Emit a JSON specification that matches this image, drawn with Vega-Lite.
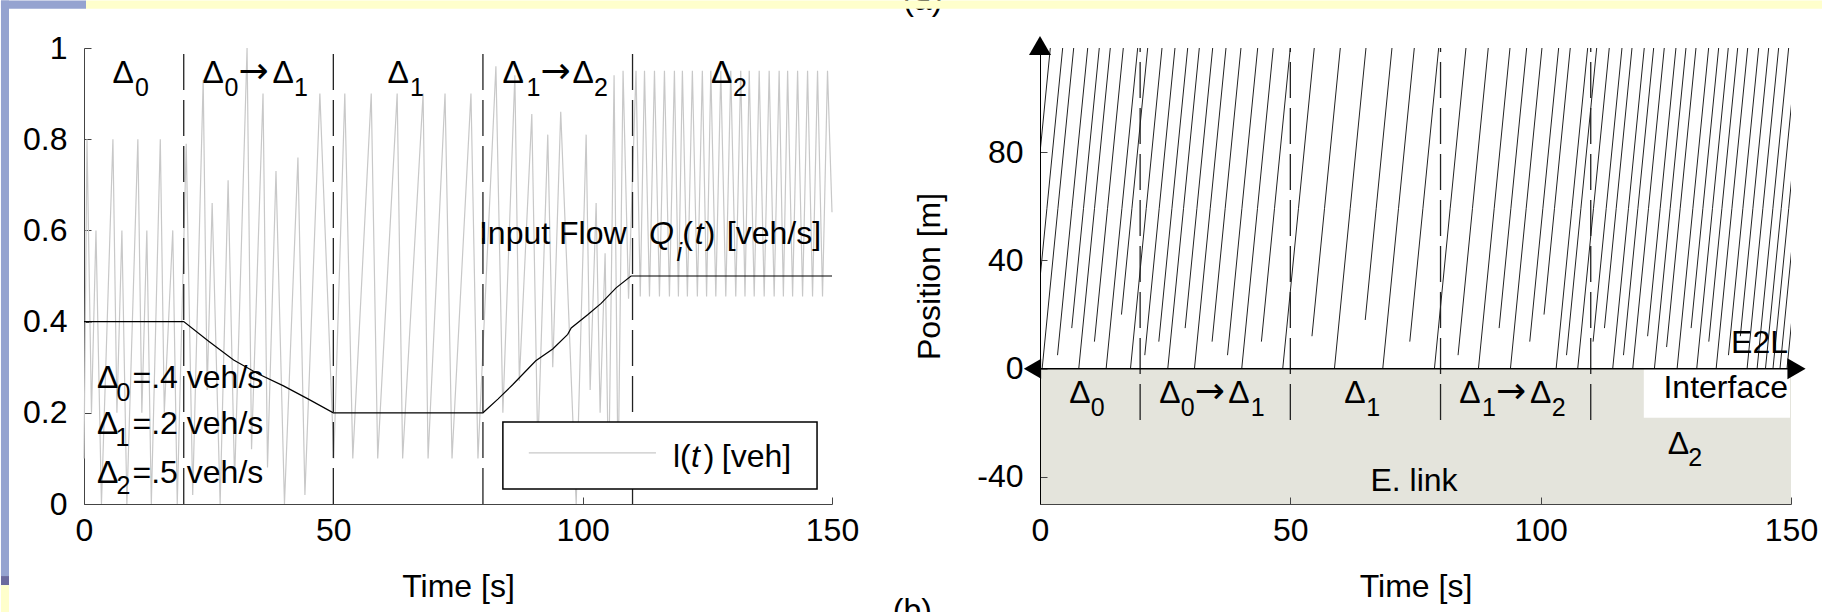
{
  "$schema": "https://vega.github.io/schema/vega-lite/v6.json",
  "background": "white",
  "padding": {"top": -16, "left": 0, "right": 0, "bottom": 0},
  "spacing": 208,
  "bounds": "flush",
  "config": {
    "font": "Liberation Sans, Arial, DejaVu Sans",
    "view": {"stroke": null},
    "axis": {
      "labelFont": "Liberation Sans, Arial, DejaVu Sans",
      "titleFont": "Liberation Sans, Arial, DejaVu Sans",
      "labelFontSize": 32,
      "titleFontSize": 32,
      "titleFontWeight": "normal",
      "labelColor": "#000",
      "titleColor": "#000",
      "domainColor": "#444",
      "tickColor": "#444",
      "grid": false,
      "labelFlush": false,
      "labelOverlap": false,
      "tickSize": -7
    },
    "text": {"font": "Liberation Sans, Arial, DejaVu Sans", "fontSize": 32, "color": "#000"}
  },
  "hconcat": [
    {
      "width": 748,
      "height": 456,
      "layer": [
        {
          "data": {"values": [{"t": 168.2, "v": 1.083, "label": "(a)"}, {"t": 166.1, "v": -0.257, "label": "(b)"}]},
          "mark": {"type": "text", "align": "center", "baseline": "alphabetic", "clip": false},
          "encoding": {
            "x": {"field": "t", "type": "quantitative", "scale": {"domain": [0, 150], "nice": false, "zero": false},
                  "axis": {"title": "Time [s]", "values": [0, 50, 100, 150], "labelPadding": 18, "titlePadding": 25}},
            "y": {"field": "v", "type": "quantitative", "scale": {"domain": [0, 1], "nice": false, "zero": false},
                  "axis": {"title": null, "values": [0, 0.2, 0.4, 0.6, 0.8, 1], "labelPadding": 24, "labelExpr": "'' + datum.value"}},
            "text": {"field": "label"}
          }
        },
        {
          "data": {"values": [{}]},
          "mark": {"type": "rect", "color": "#95A3D0", "clip": false},
          "encoding": {"x": {"datum": -16.65}, "x2": {"datum": -15.04}, "y": {"datum": 1.104}, "y2": {"datum": -0.158}}
        },
        {
          "data": {"values": [{}]},
          "mark": {"type": "rect", "color": "#95A3D0", "clip": false},
          "encoding": {"x": {"datum": -16.65}, "x2": {"datum": 0.4}, "y": {"datum": 1.104}, "y2": {"datum": 1.086}}
        },
        {
          "data": {"values": [{}]},
          "mark": {"type": "rect", "color": "#6B6A9E", "clip": false},
          "encoding": {"x": {"datum": -16.65}, "x2": {"datum": -15.04}, "y": {"datum": -0.158}, "y2": {"datum": -0.178}}
        },
        {
          "data": {"values": [{}]},
          "mark": {"type": "rect", "color": "#FFFFCC", "clip": false},
          "encoding": {"x": {"datum": -16.65}, "x2": {"datum": -15.04}, "y": {"datum": -0.178}, "y2": {"datum": -0.24}}
        },
        {
          "data": {"values": [{}]},
          "mark": {"type": "rect", "color": "#FFFFCC", "clip": false},
          "encoding": {"x": {"datum": 0.4}, "x2": {"datum": 348.8}, "y": {"datum": 1.104}, "y2": {"datum": 1.086}}
        },
        {
          "data": {"values": [
            {"t": 0, "v": 0.1}, {"t": 0.6, "v": 0.8}, {"t": 1.5, "v": 0.2}, {"t": 2.4, "v": 0.6}, {"t": 3.5, "v": 0.0},
            {"t": 5.8, "v": 0.8}, {"t": 6.6, "v": 0.2}, {"t": 7.6, "v": 0.6}, {"t": 8.6, "v": 0.0},
            {"t": 10.8, "v": 0.8}, {"t": 11.6, "v": 0.2}, {"t": 12.6, "v": 0.6}, {"t": 13.5, "v": 0.0},
            {"t": 15.3, "v": 0.8}, {"t": 16.1, "v": 0.2}, {"t": 17.8, "v": 0.6}, {"t": 18.7, "v": 0.0},
            {"t": 20.5, "v": 0.79}, {"t": 21.8, "v": 0.02}, {"t": 23.9, "v": 0.93}, {"t": 24.7, "v": 0.25},
            {"t": 25.7, "v": 0.66}, {"t": 27.3, "v": 0.0}, {"t": 28.9, "v": 0.71}, {"t": 30.2, "v": 0.05},
            {"t": 32.7, "v": 1.0}, {"t": 33.6, "v": 0.12}, {"t": 35.9, "v": 0.9}, {"t": 36.8, "v": 0.08},
            {"t": 38.5, "v": 0.73}, {"t": 40.2, "v": 0.0}, {"t": 42.9, "v": 0.76}, {"t": 44.3, "v": 0.02},
            {"t": 47.3, "v": 0.9}, {"t": 50.1, "v": 0.1}, {"t": 52.3, "v": 0.9}, {"t": 53.9, "v": 0.1},
            {"t": 57.6, "v": 0.9}, {"t": 58.9, "v": 0.1}, {"t": 62.8, "v": 0.9}, {"t": 63.9, "v": 0.1},
            {"t": 68.0, "v": 0.9}, {"t": 69.0, "v": 0.1}, {"t": 72.4, "v": 0.9}, {"t": 73.8, "v": 0.1},
            {"t": 77.6, "v": 0.9}, {"t": 79.0, "v": 0.1}, {"t": 82.6, "v": 0.96}, {"t": 84.0, "v": 0.2},
            {"t": 86.4, "v": 0.94}, {"t": 87.3, "v": 0.27}, {"t": 89.8, "v": 0.855}, {"t": 91.0, "v": 0.12},
            {"t": 93.0, "v": 0.81}, {"t": 94.0, "v": 0.3}, {"t": 95.6, "v": 0.86}, {"t": 98.7, "v": 0.0},
            {"t": 100.7, "v": 0.81}, {"t": 101.5, "v": 0.25}, {"t": 102.7, "v": 0.66}, {"t": 103.5, "v": 0.2},
            {"t": 104.5, "v": 0.55}, {"t": 105.2, "v": 0.04}, {"t": 106.3, "v": 0.94}, {"t": 107.1, "v": 0.05},
            {"t": 108.1, "v": 0.95}, {"t": 109.2, "v": 0.45},
            {"t": 110.7, "v": 0.95}, {"t": 111.55, "v": 0.455}, {"t": 112.4, "v": 0.95}, {"t": 113.4, "v": 0.455},
            {"t": 114.4, "v": 0.95}, {"t": 115.4, "v": 0.455}, {"t": 116.4, "v": 0.95}, {"t": 117.4, "v": 0.455},
            {"t": 118.4, "v": 0.95}, {"t": 119.2, "v": 0.455}, {"t": 120.0, "v": 0.95}, {"t": 121.0, "v": 0.455},
            {"t": 122.0, "v": 0.95}, {"t": 123.0, "v": 0.455}, {"t": 124.0, "v": 0.95}, {"t": 124.85, "v": 0.455},
            {"t": 125.7, "v": 0.95}, {"t": 126.7, "v": 0.455}, {"t": 127.7, "v": 0.95}, {"t": 128.7, "v": 0.455},
            {"t": 129.7, "v": 0.95}, {"t": 130.7, "v": 0.455}, {"t": 131.7, "v": 0.95}, {"t": 132.55, "v": 0.455},
            {"t": 133.4, "v": 0.95}, {"t": 134.4, "v": 0.455}, {"t": 135.4, "v": 0.95}, {"t": 136.4, "v": 0.455},
            {"t": 137.4, "v": 0.95}, {"t": 138.4, "v": 0.455}, {"t": 139.4, "v": 0.95}, {"t": 140.25, "v": 0.455},
            {"t": 141.1, "v": 0.95}, {"t": 142.1, "v": 0.455}, {"t": 143.1, "v": 0.95}, {"t": 144.1, "v": 0.455},
            {"t": 145.1, "v": 0.95}, {"t": 146.1, "v": 0.455}, {"t": 147.1, "v": 0.95}, {"t": 148.1, "v": 0.455},
            {"t": 149.1, "v": 0.95}, {"t": 150, "v": 0.64}
          ]},
          "mark": {"type": "line", "color": "#c8c8c8", "strokeWidth": 1.2},
          "encoding": {"x": {"field": "t", "type": "quantitative"}, "y": {"field": "v", "type": "quantitative"}}
        },
        {
          "data": {"values": [
            {"t": 0, "v": 0.4}, {"t": 20, "v": 0.4}, {"t": 25, "v": 0.357}, {"t": 30, "v": 0.316}, {"t": 35, "v": 0.285},
            {"t": 40, "v": 0.259}, {"t": 45, "v": 0.23}, {"t": 50, "v": 0.2}, {"t": 80, "v": 0.2}, {"t": 83, "v": 0.23},
            {"t": 86, "v": 0.262}, {"t": 89, "v": 0.296}, {"t": 90.6, "v": 0.314}, {"t": 94, "v": 0.34}, {"t": 97, "v": 0.372},
            {"t": 97.7, "v": 0.386}, {"t": 101, "v": 0.415}, {"t": 103.7, "v": 0.44}, {"t": 106.7, "v": 0.474},
            {"t": 109.7, "v": 0.5}, {"t": 150, "v": 0.5}
          ]},
          "mark": {"type": "line", "color": "#000", "strokeWidth": 1.2},
          "encoding": {"x": {"field": "t", "type": "quantitative"}, "y": {"field": "v", "type": "quantitative"}}
        },
        {
          "data": {"values": [{"t": 20}, {"t": 50}, {"t": 80}, {"t": 110}]},
          "mark": {"type": "rule", "color": "#222", "strokeWidth": 1.3, "strokeDash": [36, 10]},
          "encoding": {"x": {"field": "t", "type": "quantitative"}, "y": {"datum": 0}, "y2": {"datum": 1}}
        },
        {
          "data": {"values": [{}]},
          "mark": {"type": "rect", "fill": "white", "stroke": "#000", "strokeWidth": 1.5},
          "encoding": {"x": {"datum": 84.0}, "x2": {"datum": 147.0}, "y": {"datum": 0.18}, "y2": {"datum": 0.033}}
        },
        {
          "data": {"values": [{}]},
          "mark": {"type": "rule", "color": "#c8c8c8", "strokeWidth": 1.2},
          "encoding": {"x": {"datum": 89.2}, "x2": {"datum": 114.7}, "y": {"datum": 0.112}}
        },
        {
          "data": {"values": [
            {"t": 5.71, "v": 0.924, "label": "Δ"}, {"t": 23.76, "v": 0.924, "label": "Δ"},
            {"t": 37.8, "v": 0.924, "label": "Δ"}, {"t": 60.86, "v": 0.924, "label": "Δ"}, {"t": 83.92, "v": 0.924, "label": "Δ"},
            {"t": 97.96, "v": 0.924, "label": "Δ"}, {"t": 125.73, "v": 0.924, "label": "Δ"},
            {"t": 2.61, "v": 0.255, "label": "Δ"}, {"t": 9.73, "v": 0.255, "label": "=.4 veh/s"},
            {"t": 2.61, "v": 0.153, "label": "Δ"}, {"t": 9.73, "v": 0.153, "label": "=.2 veh/s"},
            {"t": 2.61, "v": 0.047, "label": "Δ"}, {"t": 9.73, "v": 0.047, "label": "=.5 veh/s"},
            {"t": 79.2, "v": 0.57, "label": "Input Flow"}, {"t": 119.95, "v": 0.57, "label": "("},
            {"t": 124.5, "v": 0.57, "label": ")"}, {"t": 128.9, "v": 0.57, "label": "[veh/s]"},
            {"t": 118.1, "v": 0.082, "label": "l("}, {"t": 124.3, "v": 0.082, "label": ")"}, {"t": 127.9, "v": 0.082, "label": "[veh]"}
          ]},
          "mark": {"type": "text", "align": "left", "baseline": "alphabetic"},
          "encoding": {"x": {"field": "t", "type": "quantitative"}, "y": {"field": "v", "type": "quantitative"}, "text": {"field": "label"}}
        },
        {
          "data": {"values": [{"t": 30.98, "v": 0.924, "label": "→"}, {"t": 91.54, "v": 0.924, "label": "→"}]},
          "mark": {"type": "text", "align": "left", "baseline": "alphabetic", "font": "DejaVu Sans", "fontSize": 36},
          "encoding": {"x": {"field": "t", "type": "quantitative"}, "y": {"field": "v", "type": "quantitative"}, "text": {"field": "label"}}
        },
        {
          "data": {"values": [
            {"t": 113.3, "v": 0.57, "label": "Q"}, {"t": 122.5, "v": 0.57, "label": "t"}, {"t": 121.7, "v": 0.082, "label": "t"}
          ]},
          "mark": {"type": "text", "align": "left", "baseline": "alphabetic", "fontStyle": "italic"},
          "encoding": {"x": {"field": "t", "type": "quantitative"}, "y": {"field": "v", "type": "quantitative"}, "text": {"field": "label"}}
        },
        {
          "data": {"values": [
            {"t": 10.23, "v": 0.895, "label": "0"}, {"t": 28.17, "v": 0.895, "label": "0"}, {"t": 42.11, "v": 0.895, "label": "1"},
            {"t": 65.37, "v": 0.895, "label": "1"}, {"t": 88.73, "v": 0.895, "label": "1"}, {"t": 102.27, "v": 0.895, "label": "2"},
            {"t": 130.14, "v": 0.895, "label": "2"},
            {"t": 6.5, "v": 0.226, "label": "0"}, {"t": 6.3, "v": 0.127, "label": "1"}, {"t": 6.5, "v": 0.021, "label": "2"}
          ]},
          "mark": {"type": "text", "align": "left", "baseline": "alphabetic", "fontSize": 25},
          "encoding": {"x": {"field": "t", "type": "quantitative"}, "y": {"field": "v", "type": "quantitative"}, "text": {"field": "label"}}
        },
        {
          "data": {"values": [{"t": 118.8, "v": 0.533, "label": "i"}]},
          "mark": {"type": "text", "align": "left", "baseline": "alphabetic", "fontSize": 25, "fontStyle": "italic"},
          "encoding": {"x": {"field": "t", "type": "quantitative"}, "y": {"field": "v", "type": "quantitative"}, "text": {"field": "label"}}
        }
      ]
    },
    {
      "width": 751,
      "height": 456,
      "layer": [
        {
          "data": {"values": [{}]},
          "mark": {"type": "rect", "color": "#e4e4dc"},
          "encoding": {
            "x": {"datum": 0, "type": "quantitative", "scale": {"domain": [0, 150], "nice": false, "zero": false},
                  "axis": {"title": "Time [s]", "values": [0, 50, 100, 150], "labelPadding": 18, "titlePadding": 25, "zindex": 1}},
            "x2": {"datum": 150},
            "y": {"datum": -50, "type": "quantitative", "scale": {"domain": [-50, 118.5], "nice": false, "zero": false},
                  "axis": {"title": "Position [m]", "values": [-40, 0, 40, 80], "labelPadding": 24, "titlePadding": 30, "domainColor": "#000", "zindex": 1,
                           "labelExpr": "datum.value < 0 ? '-' + abs(datum.value) : '' + datum.value"}},
            "y2": {"datum": 0}
          }
        },
        {
          "data": {"values": [{}]},
          "mark": {"type": "rect", "color": "white"},
          "encoding": {"x": {"datum": 120.6}, "x2": {"datum": 149.8}, "y": {"datum": -18.1}, "y2": {"datum": 0}}
        },
        {
          "data": {"values": [
            {"id": 1, "t": -4.24, "p": 0}, {"id": 1, "t": -1.09, "p": 59.25}, {"id": 1, "t": 2.06, "p": 118.5},
            {"id": 2, "t": -1.24, "p": 10}, {"id": 2, "t": 1.38, "p": 59.25}, {"id": 2, "t": 4.53, "p": 118.5},
            {"id": 3, "t": 0.43, "p": 0}, {"id": 3, "t": 3.58, "p": 59.25}, {"id": 3, "t": 6.73, "p": 118.5},
            {"id": 4, "t": 3.5, "p": 5}, {"id": 4, "t": 6.38, "p": 59.25}, {"id": 4, "t": 9.53, "p": 118.5},
            {"id": 5, "t": 6.34, "p": 15}, {"id": 5, "t": 8.69, "p": 59.25}, {"id": 5, "t": 11.84, "p": 118.5},
            {"id": 6, "t": 7.74, "p": 0}, {"id": 6, "t": 10.89, "p": 59.25}, {"id": 6, "t": 14.04, "p": 118.5},
            {"id": 7, "t": 10.87, "p": 10}, {"id": 7, "t": 13.49, "p": 59.25}, {"id": 7, "t": 16.64, "p": 118.5},
            {"id": 8, "t": 13.21, "p": 0}, {"id": 8, "t": 16.36, "p": 59.25}, {"id": 8, "t": 19.51, "p": 118.5},
            {"id": 9, "t": 16.27, "p": 20}, {"id": 9, "t": 18.36, "p": 59.25}, {"id": 9, "t": 21.51, "p": 118.5},
            {"id": 10, "t": 18.07, "p": 0}, {"id": 10, "t": 21.22, "p": 59.25}, {"id": 10, "t": 24.37, "p": 118.5},
            {"id": 11, "t": 20.93, "p": 5}, {"id": 11, "t": 23.81, "p": 59.25}, {"id": 11, "t": 26.96, "p": 118.5},
            {"id": 12, "t": 23.73, "p": 10}, {"id": 12, "t": 26.35, "p": 59.25}, {"id": 12, "t": 29.5, "p": 118.5},
            {"id": 13, "t": 25.52, "p": 0}, {"id": 13, "t": 28.67, "p": 59.25}, {"id": 13, "t": 31.82, "p": 118.5},
            {"id": 14, "t": 28.99, "p": 15}, {"id": 14, "t": 31.34, "p": 59.25}, {"id": 14, "t": 34.49, "p": 118.5},
            {"id": 15, "t": 30.85, "p": 0}, {"id": 15, "t": 34.0, "p": 59.25}, {"id": 15, "t": 37.15, "p": 118.5},
            {"id": 16, "t": 34.37, "p": 10}, {"id": 16, "t": 36.99, "p": 59.25}, {"id": 16, "t": 40.14, "p": 118.5},
            {"id": 17, "t": 37.45, "p": 5}, {"id": 17, "t": 40.33, "p": 59.25}, {"id": 17, "t": 43.48, "p": 118.5},
            {"id": 18, "t": 40.29, "p": 0}, {"id": 18, "t": 43.44, "p": 59.25}, {"id": 18, "t": 46.59, "p": 118.5},
            {"id": 19, "t": 44.22, "p": 10}, {"id": 19, "t": 46.84, "p": 59.25}, {"id": 19, "t": 49.99, "p": 118.5},
            {"id": 20, "t": 48.48, "p": 0}, {"id": 20, "t": 51.63, "p": 59.25}, {"id": 20, "t": 54.78, "p": 118.5},
            {"id": 21, "t": 54.32, "p": 12}, {"id": 21, "t": 56.83, "p": 59.25}, {"id": 21, "t": 59.98, "p": 118.5},
            {"id": 22, "t": 58.81, "p": 0}, {"id": 22, "t": 61.96, "p": 59.25}, {"id": 22, "t": 65.11, "p": 118.5},
            {"id": 23, "t": 64.96, "p": 18}, {"id": 23, "t": 67.15, "p": 59.25}, {"id": 23, "t": 70.3, "p": 118.5},
            {"id": 24, "t": 68.46, "p": 0}, {"id": 24, "t": 71.61, "p": 59.25}, {"id": 24, "t": 74.76, "p": 118.5},
            {"id": 25, "t": 73.86, "p": 10}, {"id": 25, "t": 76.48, "p": 59.25}, {"id": 25, "t": 79.63, "p": 118.5},
            {"id": 26, "t": 78.78, "p": 0}, {"id": 26, "t": 81.93, "p": 59.25}, {"id": 26, "t": 85.08, "p": 118.5},
            {"id": 27, "t": 83.5, "p": 5}, {"id": 27, "t": 86.38, "p": 59.25}, {"id": 27, "t": 89.53, "p": 118.5},
            {"id": 28, "t": 87.57, "p": 0}, {"id": 28, "t": 90.72, "p": 59.25}, {"id": 28, "t": 93.87, "p": 118.5},
            {"id": 29, "t": 91.7, "p": 15}, {"id": 29, "t": 94.05, "p": 59.25}, {"id": 29, "t": 97.2, "p": 118.5},
            {"id": 30, "t": 93.96, "p": 0}, {"id": 30, "t": 97.11, "p": 59.25}, {"id": 30, "t": 100.26, "p": 118.5},
            {"id": 31, "t": 97.82, "p": 10}, {"id": 31, "t": 100.44, "p": 59.25}, {"id": 31, "t": 103.59, "p": 118.5},
            {"id": 32, "t": 100.67, "p": 20}, {"id": 32, "t": 102.76, "p": 59.25}, {"id": 32, "t": 105.91, "p": 118.5},
            {"id": 33, "t": 103.09, "p": 0}, {"id": 33, "t": 106.24, "p": 59.25}, {"id": 33, "t": 109.39, "p": 118.5},
            {"id": 34, "t": 105.16, "p": 5}, {"id": 34, "t": 108.04, "p": 59.25}, {"id": 34, "t": 111.19, "p": 118.5},
            {"id": 35, "t": 107.4, "p": 0}, {"id": 35, "t": 110.55, "p": 59.25}, {"id": 35, "t": 113.7, "p": 118.5},
            {"id": 36, "t": 110.47, "p": 10}, {"id": 36, "t": 113.09, "p": 59.25}, {"id": 36, "t": 116.24, "p": 118.5},
            {"id": 37, "t": 112.74, "p": 15}, {"id": 37, "t": 115.09, "p": 59.25}, {"id": 37, "t": 118.24, "p": 118.5},
            {"id": 38, "t": 114.39, "p": 0}, {"id": 38, "t": 117.54, "p": 59.25}, {"id": 38, "t": 120.69, "p": 118.5},
            {"id": 39, "t": 116.54, "p": 5}, {"id": 39, "t": 119.42, "p": 59.25}, {"id": 39, "t": 122.57, "p": 118.5},
            {"id": 40, "t": 118.39, "p": 0}, {"id": 40, "t": 121.54, "p": 59.25}, {"id": 40, "t": 124.69, "p": 118.5},
            {"id": 41, "t": 121.36, "p": 12}, {"id": 41, "t": 123.87, "p": 59.25}, {"id": 41, "t": 127.02, "p": 118.5},
            {"id": 42, "t": 122.72, "p": 0}, {"id": 42, "t": 125.87, "p": 59.25}, {"id": 42, "t": 129.02, "p": 118.5},
            {"id": 43, "t": 125.15, "p": 8}, {"id": 43, "t": 127.87, "p": 59.25}, {"id": 43, "t": 131.02, "p": 118.5},
            {"id": 44, "t": 127.25, "p": 0}, {"id": 44, "t": 130.4, "p": 59.25}, {"id": 44, "t": 133.55, "p": 118.5},
            {"id": 45, "t": 130.05, "p": 15}, {"id": 45, "t": 132.4, "p": 59.25}, {"id": 45, "t": 135.55, "p": 118.5},
            {"id": 46, "t": 131.17, "p": 0}, {"id": 46, "t": 134.32, "p": 59.25}, {"id": 46, "t": 137.47, "p": 118.5},
            {"id": 47, "t": 133.58, "p": 10}, {"id": 47, "t": 136.2, "p": 59.25}, {"id": 47, "t": 139.35, "p": 118.5},
            {"id": 48, "t": 135.05, "p": 0}, {"id": 48, "t": 138.2, "p": 59.25}, {"id": 48, "t": 141.35, "p": 118.5},
            {"id": 49, "t": 137.51, "p": 5}, {"id": 49, "t": 140.39, "p": 59.25}, {"id": 49, "t": 143.54, "p": 118.5},
            {"id": 50, "t": 139.88, "p": 12}, {"id": 50, "t": 142.39, "p": 59.25}, {"id": 50, "t": 145.54, "p": 118.5},
            {"id": 51, "t": 141.23, "p": 0}, {"id": 51, "t": 144.38, "p": 59.25}, {"id": 51, "t": 147.53, "p": 118.5},
            {"id": 52, "t": 143.23, "p": 0}, {"id": 52, "t": 146.38, "p": 59.25}, {"id": 52, "t": 149.53, "p": 118.5},
            {"id": 53, "t": 144.9, "p": 0}, {"id": 53, "t": 148.05, "p": 59.25}, {"id": 53, "t": 151.2, "p": 118.5},
            {"id": 54, "t": 146.4, "p": 0}, {"id": 54, "t": 149.55, "p": 59.25}, {"id": 54, "t": 152.7, "p": 118.5},
            {"id": 55, "t": 147.8, "p": 0}, {"id": 55, "t": 150.95, "p": 59.25}, {"id": 55, "t": 154.1, "p": 118.5},
            {"id": 56, "t": 149.2, "p": 0}, {"id": 56, "t": 152.35, "p": 59.25}, {"id": 56, "t": 155.5, "p": 118.5}
          ]},
          "mark": {"type": "line", "color": "#222", "strokeWidth": 1, "clip": true},
          "encoding": {"x": {"field": "t", "type": "quantitative"}, "y": {"field": "p", "type": "quantitative"}, "detail": {"field": "id"}}
        },
        {
          "data": {"values": [{"t": 20}, {"t": 50}, {"t": 80}, {"t": 110}]},
          "mark": {"type": "rule", "color": "#222", "strokeWidth": 1.3, "strokeDash": [36, 10]},
          "encoding": {"x": {"field": "t", "type": "quantitative"}, "y": {"datum": -19}, "y2": {"datum": 118.5}}
        },
        {
          "data": {"values": [{}]},
          "mark": {"type": "rule", "color": "#000", "strokeWidth": 1.4, "clip": false},
          "encoding": {"x": {"datum": -1.5}, "x2": {"datum": 151.1}, "y": {"datum": 0}}
        },
        {
          "data": {"values": [{}]},
          "mark": {"type": "point", "shape": "triangle-up", "filled": true, "color": "#000", "opacity": 1, "size": 484, "clip": false},
          "encoding": {"x": {"datum": 0}, "y": {"datum": 119.4}}
        },
        {
          "data": {"values": [{}]},
          "mark": {"type": "point", "shape": "triangle-left", "filled": true, "color": "#000", "opacity": 1, "size": 400, "clip": false},
          "encoding": {"x": {"datum": -1.5}, "y": {"datum": 0}}
        },
        {
          "data": {"values": [{}]},
          "mark": {"type": "point", "shape": "triangle-right", "filled": true, "color": "#000", "opacity": 1, "size": 441, "clip": false},
          "encoding": {"x": {"datum": 151.1}, "y": {"datum": 0}}
        },
        {
          "data": {"values": [
            {"t": 5.85, "p": -12.57, "label": "Δ"}, {"t": 23.83, "p": -12.57, "label": "Δ"},
            {"t": 37.61, "p": -12.57, "label": "Δ"}, {"t": 60.78, "p": -12.57, "label": "Δ"}, {"t": 83.74, "p": -12.57, "label": "Δ"},
            {"t": 97.86, "p": -12.57, "label": "Δ"}, {"t": 125.36, "p": -31.63, "label": "Δ"}
          ]},
          "mark": {"type": "text", "align": "left", "baseline": "alphabetic"},
          "encoding": {"x": {"field": "t", "type": "quantitative"}, "y": {"field": "p", "type": "quantitative"}, "text": {"field": "label"}}
        },
        {
          "data": {"values": [{"t": 30.9, "p": -12.57, "label": "→"}, {"t": 91.1, "p": -12.57, "label": "→"}]},
          "mark": {"type": "text", "align": "left", "baseline": "alphabetic", "font": "DejaVu Sans", "fontSize": 36},
          "encoding": {"x": {"field": "t", "type": "quantitative"}, "y": {"field": "p", "type": "quantitative"}, "text": {"field": "label"}}
        },
        {
          "data": {"values": [
            {"t": 10.13, "p": -17.48, "label": "0"}, {"t": 28.1, "p": -17.48, "label": "0"}, {"t": 42.08, "p": -17.48, "label": "1"},
            {"t": 65.17, "p": -17.48, "label": "1"}, {"t": 88.28, "p": -17.48, "label": "1"}, {"t": 102.2, "p": -17.48, "label": "2"},
            {"t": 129.48, "p": -35.96, "label": "2"}
          ]},
          "mark": {"type": "text", "align": "left", "baseline": "alphabetic", "fontSize": 25},
          "encoding": {"x": {"field": "t", "type": "quantitative"}, "y": {"field": "p", "type": "quantitative"}, "text": {"field": "label"}}
        },
        {
          "data": {"values": [{"t": 74.7, "p": -45.2, "label": "E. link"}]},
          "mark": {"type": "text", "align": "center", "baseline": "alphabetic"},
          "encoding": {"x": {"field": "t", "type": "quantitative"}, "y": {"field": "p", "type": "quantitative"}, "text": {"field": "label"}}
        },
        {
          "data": {"values": [{"t": 149.4, "p": -10.9, "label": "Interface"}, {"t": 149.4, "p": 5.9, "label": "E2L"}]},
          "mark": {"type": "text", "align": "right", "baseline": "alphabetic"},
          "encoding": {"x": {"field": "t", "type": "quantitative"}, "y": {"field": "p", "type": "quantitative"}, "text": {"field": "label"}}
        }
      ]
    }
  ]
}
